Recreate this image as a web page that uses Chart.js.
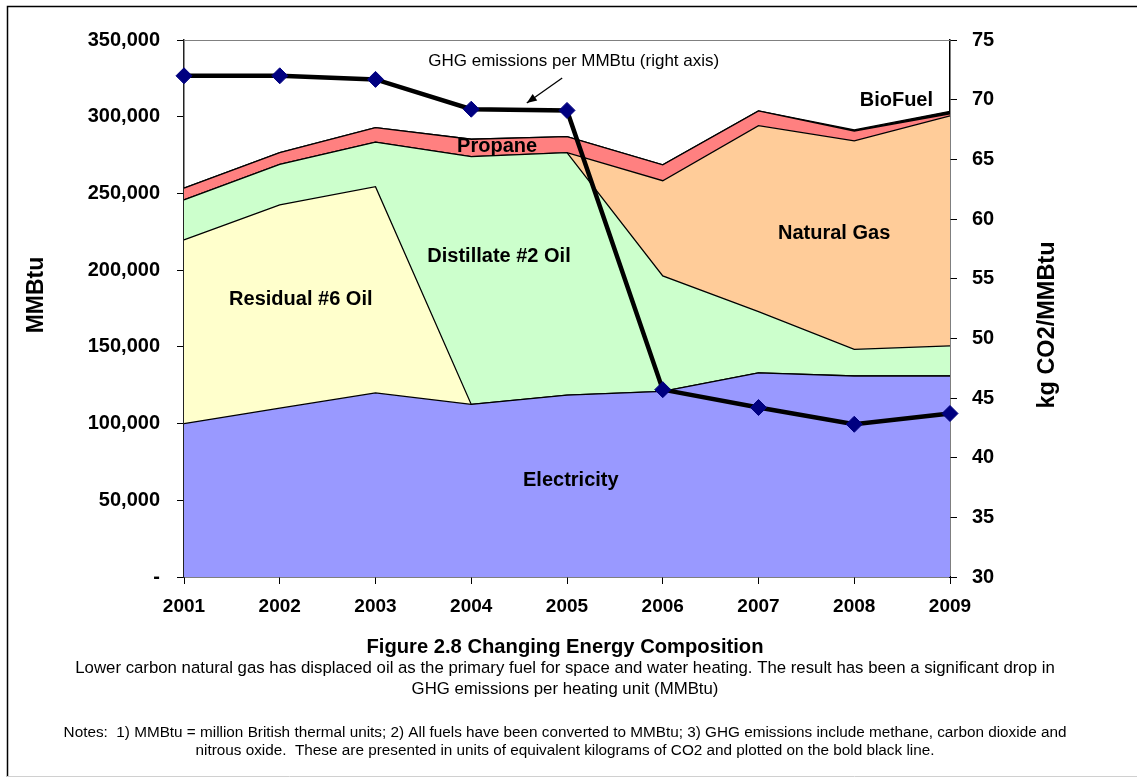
<!DOCTYPE html>
<html><head><meta charset="utf-8">
<script src="https://cdn.jsdelivr.net/npm/chart.js@4.4.1/dist/chart.umd.min.js"></script>
<style>html,body{margin:0;padding:0;background:#fff;overflow:hidden}#wrap{position:relative;width:1137px;height:778px}</style>
</head><body><div id="wrap"><canvas id="c" width="1137" height="778"></canvas></div>
<script>
// ---- data ----
const years = ['2001','2002','2003','2004','2005','2006','2007','2008','2009'];
const electricity = [100000,110000,120000,112500,118500,121000,133000,131000,131000];
const residual6   = [119700,132500,134400,0,0,0,0,0,0];
const distillate2 = [26100,26500,29000,161500,158100,75200,40000,17400,19600];
const naturalGas  = [0,0,0,0,0,62100,121200,135800,149900];
const propane     = [7600,7600,9500,11300,10400,10300,9600,6500,1300];
const bioFuel     = [0,0,0,0,0,0,0,700,1700];
const ghgPerMMBtu = [72.0,72.0,71.7,69.2,69.1,45.7,44.2,42.8,43.7];
const leftAxisRange  = [0, 350000, 50000];
const rightAxisRange = [30, 75, 5];

const FONT = "'Liberation Sans', Arial, sans-serif";

// in-chart labels (x as category index, y in axis units)
const areaLabels = [
  {text:'Electricity',       x:4.04, y:63200,  axis:'y'},
  {text:'Residual #6 Oil',   x:1.22, y:180600, axis:'y'},
  {text:'Distillate #2 Oil', x:3.29, y:208600, axis:'y'},
  {text:'Natural Gas',       x:6.79, y:223600, axis:'y'},
  {text:'Propane',           x:3.27, y:280300, axis:'y'},
  {text:'BioFuel',           x:7.44, y:310300, axis:'y'}
];

const areaDefs = [
  ['Electricity', electricity, '#9999FF'],
  ['Residual #6 Oil', residual6, '#FFFFCC'],
  ['Distillate #2 Oil', distillate2, '#CCFFCC'],
  ['Natural Gas', naturalGas, '#FFCC99'],
  ['Propane', propane, '#FF8080'],
  ['BioFuel', bioFuel, '#000000']
];

const datasets = areaDefs.map((d, i) => ({
  type: 'line',
  label: d[0],
  data: d[1],
  backgroundColor: d[2],
  borderColor: '#000',
  borderWidth: 1.3,
  pointRadius: 0,
  fill: i === 0 ? 'origin' : '-1',
  tension: 0,
  yAxisID: 'y',
  stack: 'energy',
  order: 1
}));
datasets.push({
  type: 'line',
  label: 'GHG emissions per MMBtu',
  data: ghgPerMMBtu,
  borderColor: '#000',
  borderWidth: 4.5,
  backgroundColor: '#000080',
  pointStyle: 'rectRot',
  pointRadius: 8,
  pointBorderColor: '#000080',
  pointBackgroundColor: '#000080',
  pointBorderWidth: 1,
  fill: false,
  tension: 0,
  yAxisID: 'y2',
  order: -1
});

const decor = {
  id: 'decor',
  afterDraw(chart) {
    const ctx = chart.ctx;
    const xs = chart.scales.x, ys = chart.scales.y, y2 = chart.scales.y2;
    const ca = chart.chartArea;
    ctx.save();
    // figure border
    ctx.strokeStyle = '#000'; ctx.lineWidth = 1.5;
    ctx.beginPath();
    ctx.moveTo(7.5, 777); ctx.lineTo(7.5, 6.5); ctx.lineTo(1137, 6.5);
    ctx.stroke();
    ctx.strokeStyle = '#d0d0d0'; ctx.lineWidth = 1;
    ctx.beginPath(); ctx.moveTo(7, 776.5); ctx.lineTo(1137, 776.5); ctx.stroke();
    // plot top border
    ctx.strokeStyle = '#808080'; ctx.lineWidth = 1;
    ctx.beginPath(); ctx.moveTo(ca.left, ca.top + 0.5); ctx.lineTo(ca.right, ca.top + 0.5); ctx.stroke();

    // area labels
    ctx.fillStyle = '#000';
    ctx.textAlign = 'center'; ctx.textBaseline = 'middle';
    ctx.font = 'bold 20px ' + FONT;
    areaLabels.forEach(l => {
      const sc = l.axis === 'y2' ? y2 : ys;
      ctx.fillText(l.text, xs.getPixelForValue(l.x), sc.getPixelForValue(l.y));
    });
    // GHG annotation + arrow
    ctx.font = '17px ' + FONT;
    ctx.fillText('GHG emissions per MMBtu (right axis)', xs.getPixelForValue(4.07), y2.getPixelForValue(73.24));
    const ax0 = xs.getPixelForValue(3.95), ay0 = y2.getPixelForValue(71.82);
    const ax1 = xs.getPixelForValue(3.58), ay1 = y2.getPixelForValue(69.72);
    ctx.strokeStyle = '#000'; ctx.lineWidth = 1.3;
    ctx.beginPath(); ctx.moveTo(ax0, ay0); ctx.lineTo(ax1, ay1); ctx.stroke();
    const ang = Math.atan2(ay1 - ay0, ax1 - ax0), L = 10, W = 4;
    ctx.beginPath();
    ctx.moveTo(ax1, ay1);
    ctx.lineTo(ax1 - L*Math.cos(ang) + W*Math.sin(ang), ay1 - L*Math.sin(ang) - W*Math.cos(ang));
    ctx.lineTo(ax1 - L*Math.cos(ang) - W*Math.sin(ang), ay1 - L*Math.sin(ang) + W*Math.cos(ang));
    ctx.closePath(); ctx.fill();

    // axis titles
    ctx.font = 'bold 23px ' + FONT;
    ctx.save(); ctx.translate(37, 295); ctx.rotate(-Math.PI/2);
    ctx.fillText('MMBtu', 0, 0); ctx.restore();
    ctx.font = 'bold 23.5px ' + FONT;
    ctx.save(); ctx.translate(1048, 325); ctx.rotate(-Math.PI/2);
    ctx.fillText('kg CO2/MMBtu', 0, 0); ctx.restore();

    // figure caption
    const cx = 565;
    ctx.font = 'bold 20.2px ' + FONT;
    ctx.fillText('Figure 2.8 Changing Energy Composition', cx, 647);
    ctx.font = '16.8px ' + FONT;
    ctx.fillText('Lower carbon natural gas has displaced oil as the primary fuel for space and water heating. The result has been a significant drop in', cx, 668);
    ctx.fillText('GHG emissions per heating unit (MMBtu)', cx, 689);
    ctx.font = '15.3px ' + FONT;
    ctx.fillText('Notes:  1) MMBtu = million British thermal units; 2) All fuels have been converted to MMBtu; 3) GHG emissions include methane, carbon dioxide and', cx, 733);
    ctx.fillText('nitrous oxide.  These are presented in units of equivalent kilograms of CO2 and plotted on the bold black line.', cx, 751);
    ctx.restore();
  }
};

new Chart(document.getElementById('c'), {
  data: { labels: years, datasets },
  options: {
    responsive: false,
    animation: false,
    devicePixelRatio: 1,
    layout: { padding: { top: 40, left: 0, right: 0, bottom: 0 } },
    plugins: { legend: { display: false }, tooltip: { enabled: false } },
    elements: { line: { borderJoinStyle: 'miter' } },
    scales: {
      x: {
        type: 'category',
        offset: false,
        grid: { display: true, drawOnChartArea: false, drawTicks: true, tickLength: 7, color: '#000', lineWidth: 1 },
        border: { display: true, color: '#000', width: 1.5 },
        ticks: { color: '#000', font: { family: FONT, size: 19, weight: 'bold' }, padding: 11, maxRotation: 0, autoSkip: false },
        afterFit(s) { s.height = 201; }
      },
      y: {
        type: 'linear', position: 'left', stacked: true,
        min: leftAxisRange[0], max: leftAxisRange[1],
        grid: { display: true, drawOnChartArea: false, drawTicks: true, tickLength: 7, color: '#000', lineWidth: 1 },
        border: { display: true, color: '#222', width: 1.5 },
        ticks: { stepSize: leftAxisRange[2], color: '#000', font: { family: FONT, size: 20, weight: 'bold' }, padding: 17,
          callback: v => v === 0 ? '-' : v.toLocaleString('en-US') },
        afterFit(s) { s.width = 184; }
      },
      y2: {
        type: 'linear', position: 'right', stacked: false,
        min: rightAxisRange[0], max: rightAxisRange[1],
        grid: { display: true, drawOnChartArea: false, drawTicks: true, tickLength: 7, color: '#000', lineWidth: 1 },
        border: { display: true, color: '#000', width: 1.5 },
        ticks: { stepSize: rightAxisRange[2], color: '#000', font: { family: FONT, size: 20, weight: 'bold' }, padding: 15 },
        afterFit(s) { s.width = 187; }
      }
    }
  },
  plugins: [decor]
});
</script></body></html>
